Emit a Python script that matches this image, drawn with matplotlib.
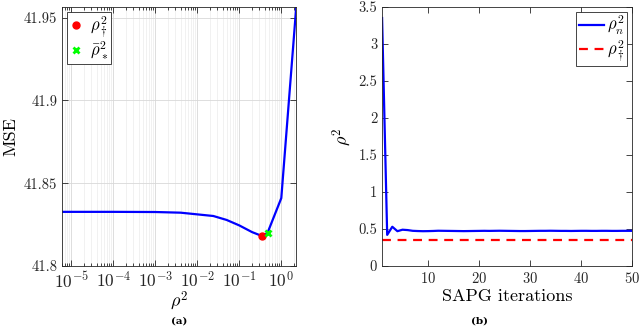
import numpy as np
import matplotlib
matplotlib.use('Agg')
import matplotlib.pyplot as plt
from matplotlib.ticker import LogLocator, NullFormatter

plt.rcParams['font.family'] = 'serif'
plt.rcParams['font.serif'] = ['cmr10']
plt.rcParams['mathtext.fontset'] = 'cm'
plt.rcParams['axes.formatter.use_mathtext'] = True

# panel (a): MSE vs rho^2
rho2 = [5e-6, 1e-5, 1e-4, 1e-3, 4e-3, 2.4e-2, 5e-2, 0.1, 0.2, 0.355, 0.47, 1.0, 3.16]
mse = [41.8327, 41.8327, 41.8327, 41.8326, 41.8322, 41.8302, 41.8278, 41.8245, 41.8205, 41.8180, 41.8200, 41.8410, 42.0030]
rho_dagger = 0.355
mse_dagger = 41.8180
rho_star = 0.47
mse_star = 41.8200
yticks_a = [41.8, 41.85, 41.9, 41.95]
yticklabels_a = ['41.8', '41.85', '41.9', '41.95']

# panel (b): SAPG iterations
iters = list(range(1, 51))
rho_n = [3.35, 0.42, 0.53, 0.47, 0.49, 0.485, 0.475, 0.472, 0.470, 0.471,
         0.473, 0.476, 0.475, 0.474, 0.473, 0.472, 0.471, 0.472, 0.473, 0.474,
         0.475, 0.474, 0.475, 0.476, 0.475, 0.474, 0.473, 0.472, 0.472, 0.473,
         0.474, 0.475, 0.475, 0.476, 0.475, 0.474, 0.474, 0.473, 0.474, 0.475,
         0.475, 0.474, 0.474, 0.475, 0.475, 0.474, 0.474, 0.475, 0.475, 0.475]
yticks_b = [0, 0.5, 1, 1.5, 2, 2.5, 3, 3.5]
yticklabels_b = ['0', '0.5', '1', '1.5', '2', '2.5', '3', '3.5']
xticks_b = [10, 20, 30, 40, 50]

fig = plt.figure(figsize=(6.4, 3.3), dpi=100)
ax1 = fig.add_axes([0.097, 0.194, 0.366, 0.785])
ax2 = fig.add_axes([0.597, 0.194, 0.391, 0.785])

for ax in (ax1, ax2):
    ax.tick_params(which='both', direction='in', top=True, right=True,
                   labelsize=10.5, colors='#262626', width=0.6)
    ax.tick_params(which='major', length=4)
    ax.tick_params(which='minor', length=2)
    for s in ax.spines.values():
        s.set_color('#262626')
        s.set_linewidth(0.6)

# (a)
ax1.plot(rho2, mse, color='blue', lw=1.6, zorder=2)
ax1.plot([rho_dagger], [mse_dagger], 'o', color='red', ms=5, label=r'$\rho_\dagger^2$', zorder=3)
ax1.plot([rho_star], [mse_star], 'x', color='#00ff00', ms=4, mew=2, label=r'$\bar{\rho}_*^2$', zorder=3)
ax1.set_xscale('log')
ax1.set_xlim(6e-6, 2.28)
ax1.set_ylim(41.8, 41.9565)
ax1.xaxis.set_major_locator(LogLocator(base=10, numticks=12))
ax1.xaxis.set_minor_locator(LogLocator(base=10, subs=np.arange(2, 10), numticks=12))
ax1.xaxis.set_minor_formatter(NullFormatter())
ax1.tick_params(axis='x', which='major', labelsize=12.5, pad=3)
ax1.set_yticks(yticks_a)
ax1.set_yticklabels(yticklabels_a)
ax1.grid(True, which='major', color='#d8d8d8', lw=0.6)
ax1.grid(True, which='minor', axis='x', color='#ececec', lw=0.5)
ax1.set_axisbelow(True)
ax1.set_ylabel('MSE', fontsize=13, labelpad=4)
ax1.set_xlabel(r'$\rho^2$', fontsize=13, labelpad=-1)
leg1 = ax1.legend(loc='upper left', fontsize=12, handlelength=0.8, handletextpad=0.4,
                  borderpad=0.15, labelspacing=0.05, fancybox=False, framealpha=1,
                  borderaxespad=0.3)
leg1.get_frame().set_edgecolor('#262626')
leg1.get_frame().set_linewidth(0.6)

# (b)
ax2.plot(iters, rho_n, color='blue', lw=1.6, label=r'$\rho_n^2$')
ax2.axhline(rho_dagger, color='red', lw=1.6, ls=(0, (4, 3)), label=r'$\rho_\dagger^2$')
ax2.set_xlim(1, 50)
ax2.set_ylim(0, 3.5)
ax2.set_xticks(xticks_b)
ax2.set_yticks(yticks_b)
ax2.set_yticklabels(yticklabels_b)
ax2.set_ylabel(r'$\rho^2$', fontsize=13, labelpad=4)
ax2.set_xlabel('SAPG iterations', fontsize=13, labelpad=2)
leg2 = ax2.legend(loc='upper right', fontsize=12, handlelength=1.5, handletextpad=0.2,
                  borderpad=0.15, labelspacing=0.05, fancybox=False, framealpha=1,
                  borderaxespad=0.3)
leg2.get_frame().set_edgecolor('#262626')
leg2.get_frame().set_linewidth(0.6)

fig.text(0.28, 0.02, '(a)', ha='center', fontsize=7.5, fontweight='bold', family='DejaVu Serif')
fig.text(0.749, 0.02, '(b)', ha='center', fontsize=7.5, fontweight='bold', family='DejaVu Serif')

fig.savefig('out.png', dpi=100)
